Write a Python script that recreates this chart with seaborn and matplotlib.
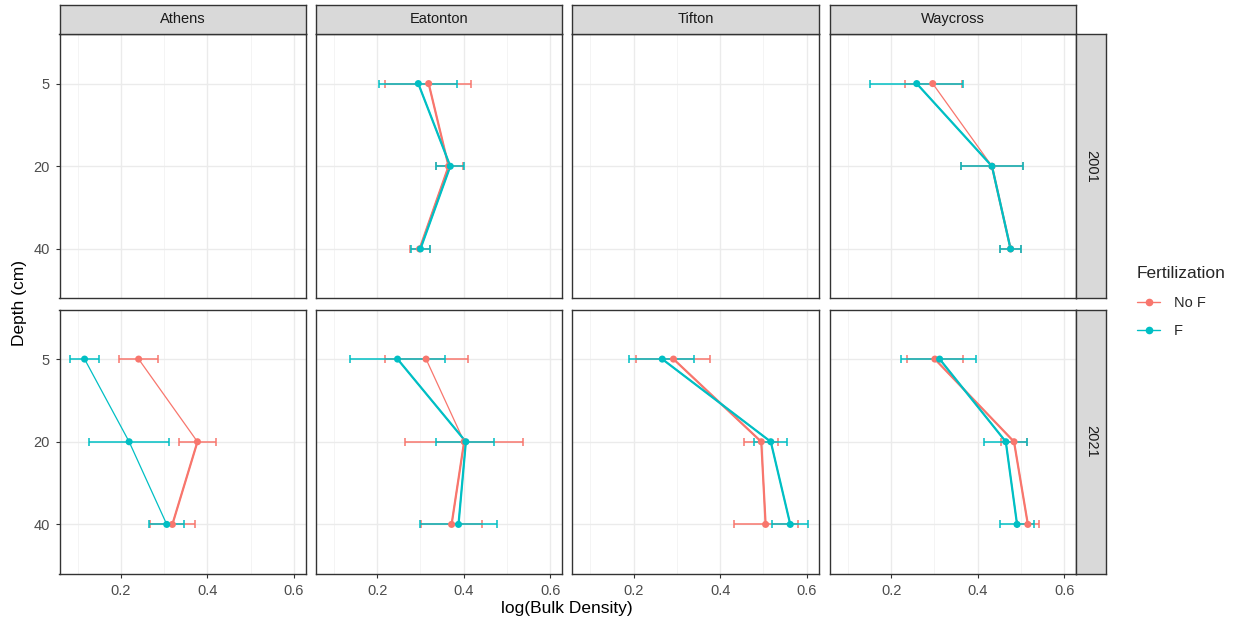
import matplotlib
matplotlib.use("Agg")
import matplotlib.pyplot as plt
from matplotlib.lines import Line2D
from matplotlib.ticker import MultipleLocator, FixedLocator
import seaborn as sns
import pandas as pd

# ---- data -------------------------------------------------------------
sites = ["Athens", "Eatonton", "Tifton", "Waycross"]
years = ["2001", "2021"]
depths = [5, 20, 40]
fert_levels = ["No F", "F"]
x_ticks = [0.2, 0.4, 0.6]

row_year = ["2001"] * 12 + ["2021"] * 24
row_site = (["Eatonton"] * 6 + ["Waycross"] * 6
            + ["Athens"] * 6 + ["Eatonton"] * 6 + ["Tifton"] * 6 + ["Waycross"] * 6)
row_fert = (["No F"] * 3 + ["F"] * 3) * 6
row_depth = depths * 12

bd_mean = [0.319, 0.365, 0.298, 0.295, 0.369, 0.300,
           0.296, 0.433, 0.476, 0.259, 0.433, 0.476,
           0.241, 0.377, 0.319, 0.116, 0.219, 0.306,
           0.313, 0.401, 0.372, 0.247, 0.405, 0.388,
           0.292, 0.495, 0.505, 0.266, 0.517, 0.562,
           0.301, 0.484, 0.516, 0.312, 0.465, 0.491]
bd_low = [0.217, 0.335, 0.276, 0.205, 0.336, 0.277,
          0.233, 0.362, 0.452, 0.151, 0.362, 0.452,
          0.195, 0.335, 0.268, 0.082, 0.126, 0.264,
          0.218, 0.264, 0.301, 0.138, 0.336, 0.298,
          0.206, 0.456, 0.431, 0.190, 0.479, 0.520,
          0.237, 0.454, 0.491, 0.223, 0.414, 0.452]
bd_high = [0.417, 0.398, 0.322, 0.384, 0.400, 0.322,
           0.364, 0.505, 0.501, 0.367, 0.505, 0.501,
           0.285, 0.419, 0.372, 0.150, 0.312, 0.347,
           0.410, 0.538, 0.443, 0.357, 0.470, 0.477,
           0.377, 0.533, 0.579, 0.339, 0.554, 0.604,
           0.366, 0.514, 0.541, 0.397, 0.514, 0.530]

df = pd.DataFrame({"year": row_year, "site": row_site, "fert": row_fert,
                   "depth": row_depth, "bd": bd_mean,
                   "lo": bd_low, "hi": bd_high})
df["pos"] = df["depth"].map({d: i for i, d in enumerate(depths)})

# ---- style ------------------------------------------------------------
palette = {"No F": "#F8766D", "F": "#00BFC4"}
# path segments (5->20, 20->40) drawn with a heavier stroke
heavy = {
    ("2001", "Eatonton", "No F"): [1, 1], ("2001", "Eatonton", "F"): [1, 1],
    ("2001", "Waycross", "No F"): [0, 1], ("2001", "Waycross", "F"): [1, 1],
    ("2021", "Athens", "No F"): [0, 1], ("2021", "Athens", "F"): [0, 0],
    ("2021", "Eatonton", "No F"): [0, 1], ("2021", "Eatonton", "F"): [1, 1],
    ("2021", "Tifton", "No F"): [1, 1], ("2021", "Tifton", "F"): [1, 1],
    ("2021", "Waycross", "No F"): [1, 1], ("2021", "Waycross", "F"): [1, 1],
}

sns.set_style("white")
plt.rcParams["font.family"] = ["Liberation Sans", "DejaVu Sans"]

W, H = 1241, 628
fig = plt.figure(figsize=(W / 100, H / 100), dpi=100)

lefts = [59.5, 315.8, 572.3, 829.8]
pw = 246.5
tops = [34.0, 309.5]
ph = 264.5
frame_col = "#333333"
strip_fill = "#D9D9D9"


def px_axes(l, t, w, h, **kw):
    return fig.add_axes([l / W, 1 - (t + h) / H, w / W, h / H], **kw)


for r, yr in enumerate(years):
    for c, site in enumerate(sites):
        ax = px_axes(lefts[c], tops[r], pw, ph)
        ax.set_facecolor("white")

        sub = df[(df["year"] == yr) & (df["site"] == site)]
        for f in fert_levels:
            s = sub[sub["fert"] == f].sort_values("pos")
            if s.empty:
                continue
            col = palette[f]
            ax.errorbar(s["bd"], s["pos"],
                        xerr=[s["bd"] - s["lo"], s["hi"] - s["bd"]],
                        fmt="none", ecolor=col, elinewidth=1.1,
                        capsize=3.2, capthick=1.1, zorder=3)
            sns.lineplot(data=s, x="bd", y="pos", sort=False, estimator=None,
                         color=col, lw=0.9, ax=ax, legend=False, zorder=4)
            for k, hv in enumerate(heavy[(yr, site, f)]):
                if hv:
                    seg = s.iloc[k:k + 2]
                    sns.lineplot(data=seg, x="bd", y="pos", sort=False,
                                 estimator=None, color=col, lw=1.6, ax=ax,
                                 legend=False, zorder=4)
            sns.scatterplot(data=s, x="bd", y="pos", color=col, s=26,
                            edgecolor="none", ax=ax, legend=False, zorder=5)

        # axis setup after drawing so the seaborn calls don't reset it
        ax.set_xlim(0.058, 0.628)
        ax.set_ylim(2.6, -0.6)
        ax.xaxis.set_major_locator(FixedLocator(x_ticks))
        ax.xaxis.set_minor_locator(MultipleLocator(0.1))
        ax.yaxis.set_major_locator(FixedLocator(range(len(depths))))
        ax.yaxis.set_minor_locator(FixedLocator([]))
        ax.set_xticklabels([f"{v:.1f}" for v in x_ticks])
        ax.set_yticklabels([str(d) for d in depths])
        ax.grid(True, which="major", color="#EBEBEB", lw=1.0, zorder=0)
        ax.grid(True, which="minor", axis="x", color="#F2F2F2", lw=0.6, zorder=0)
        ax.set_axisbelow(True)
        for sp in ax.spines.values():
            sp.set_color(frame_col)
            sp.set_linewidth(1.0)
        ax.tick_params(axis="both", which="major", length=3, width=0.8,
                       color=frame_col, labelcolor="#4D4D4D", labelsize=10.5,
                       pad=4, bottom=True, left=True)
        ax.tick_params(axis="x", which="minor", length=0)
        if r == 0:
            ax.tick_params(axis="x", labelbottom=False, bottom=False)
        if c != 0:
            ax.tick_params(axis="y", labelleft=False, left=False)
        ax.set_xlabel("")
        ax.set_ylabel("")

        if r == 0:
            st = px_axes(lefts[c], 4.5, pw, tops[0] - 4.5)
            st.set_facecolor(strip_fill)
            st.set_xticks([]); st.set_yticks([])
            for sp in st.spines.values():
                sp.set_color(frame_col); sp.set_linewidth(1.0)
            st.text(0.5, 0.5, site, ha="center", va="center",
                    fontsize=10.5, color="#1A1A1A", transform=st.transAxes)
    rs = px_axes(lefts[-1] + pw, tops[r], 29.5, ph)
    rs.set_facecolor(strip_fill)
    rs.set_xticks([]); rs.set_yticks([])
    for sp in rs.spines.values():
        sp.set_color(frame_col); sp.set_linewidth(1.0)
    rs.text(0.5, 0.5, yr, ha="center", va="center", rotation=-90,
            fontsize=10.5, color="#1A1A1A", transform=rs.transAxes)

fig.text(20 / W, 1 - 303 / H, "Depth (cm)", rotation=90, ha="center",
         va="center", fontsize=12.5, color="black")
fig.text(567 / W, 1 - 609 / H, "log(Bulk Density)", ha="center",
         va="center", fontsize=12.5, color="black")

handles = [Line2D([], [], color=palette[f], lw=1.0, marker="o", markersize=4.5)
           for f in fert_levels]
leg = fig.legend(handles, fert_levels, title="Fertilization", loc="upper left",
                 bbox_to_anchor=(1124 / W, 1 - 253 / H), frameon=False,
                 fontsize=10.5, title_fontsize=12.5, handlelength=1.6,
                 handletextpad=0.9, labelspacing=1.0, alignment="left")

fig.savefig("out.png", dpi=100, facecolor="white")
